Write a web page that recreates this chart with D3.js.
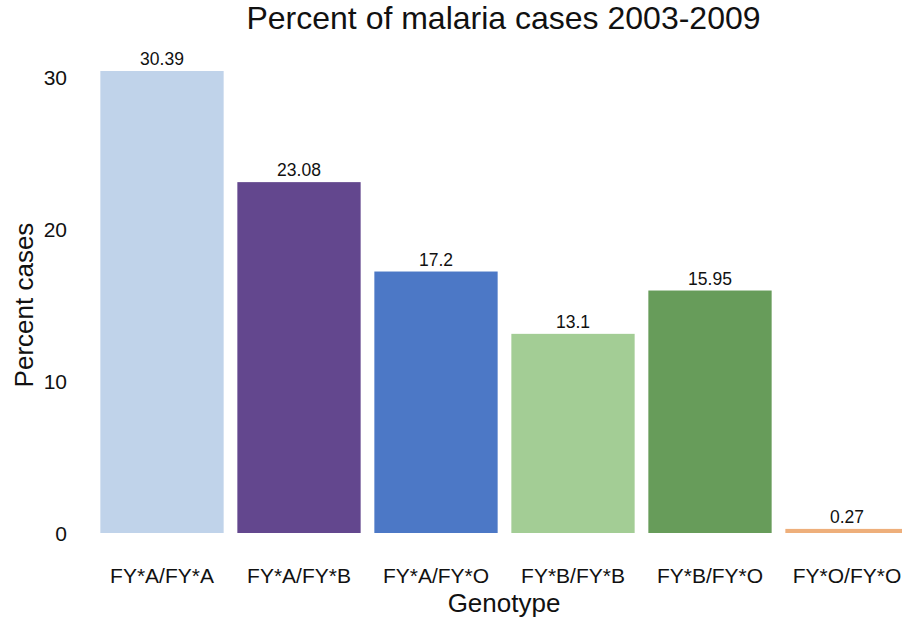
<!DOCTYPE html>
<html>
<head>
<meta charset="utf-8">
<script src="https://cdn.jsdelivr.net/npm/d3@7"></script>
<style>
  html, body { margin: 0; padding: 0; background: #fff; }
  svg { display: block; font-family: "Liberation Sans", Arial, sans-serif; }
</style>
</head>
<body>
<svg id="chart" width="902" height="621"></svg>
<script>
// Genotype categories and their share of malaria cases (%)
const genotypes = ["FY*A/FY*A", "FY*A/FY*B", "FY*A/FY*O", "FY*B/FY*B", "FY*B/FY*O", "FY*O/FY*O"];
const percentCases = [30.39, 23.08, 17.2, 13.1, 15.95, 0.27];
const barColors = ["#c0d3ea", "#63478e", "#4c78c6", "#a3cd95", "#679c5a", "#eeaf7b"];
const yTicks = [0, 10, 20, 30];

const svg = d3.select("#chart");

const x = d3.scaleBand()
  .domain(genotypes)
  .range([93.5, 915.5])
  .paddingInner(0.1)
  .paddingOuter(0.05);

const y = d3.scaleLinear()
  .domain([0, 30.39])
  .range([533, 71]);

// Bars (the last one runs past the canvas edge)
svg.append("g")
  .selectAll("rect")
  .data(genotypes)
  .join("rect")
  .attr("x", d => x(d))
  .attr("y", (d, i) => y(percentCases[i]))
  .attr("width", x.bandwidth())
  .attr("height", (d, i) => y(0) - y(percentCases[i]))
  .attr("fill", (d, i) => barColors[i]);

// Value labels above each bar
svg.append("g")
  .selectAll("text")
  .data(genotypes)
  .join("text")
  .attr("x", d => x(d) + x.bandwidth() / 2)
  .attr("y", (d, i) => y(percentCases[i]) - 6)
  .attr("text-anchor", "middle")
  .attr("font-size", 17.5)
  .attr("fill", "#111")
  .text((d, i) => String(percentCases[i]));

// Y axis (labels only)
const yAxis = d3.axisLeft(y).tickValues(yTicks).tickSize(0).tickPadding(0);
const gy = svg.append("g").attr("transform", "translate(67,0)").call(yAxis);
gy.select(".domain").remove();
gy.selectAll("text")
  .attr("font-size", 21)
  .attr("fill", "#111")
  .attr("font-family", "Liberation Sans, Arial, sans-serif")
  .attr("dy", "0.35em");

// X axis (labels only)
const xAxis = d3.axisBottom(x).tickSize(0).tickPadding(0);
const gx = svg.append("g").attr("transform", "translate(0,568)").call(xAxis);
gx.select(".domain").remove();
gx.selectAll("text")
  .attr("font-size", 21)
  .attr("fill", "#111")
  .attr("font-family", "Liberation Sans, Arial, sans-serif")
  .attr("dy", "0.71em");

// Titles
svg.append("text")
  .attr("x", 503.5).attr("y", 29)
  .attr("text-anchor", "middle")
  .attr("font-size", 32)
  .attr("fill", "#111")
  .text("Percent of malaria cases 2003-2009");

svg.append("text")
  .attr("x", 504).attr("y", 612)
  .attr("text-anchor", "middle")
  .attr("font-size", 26)
  .attr("fill", "#111")
  .text("Genotype");

svg.append("text")
  .attr("transform", "translate(33,305) rotate(-90)")
  .attr("text-anchor", "middle")
  .attr("font-size", 26)
  .attr("fill", "#111")
  .text("Percent cases");
</script>
</body>
</html>
